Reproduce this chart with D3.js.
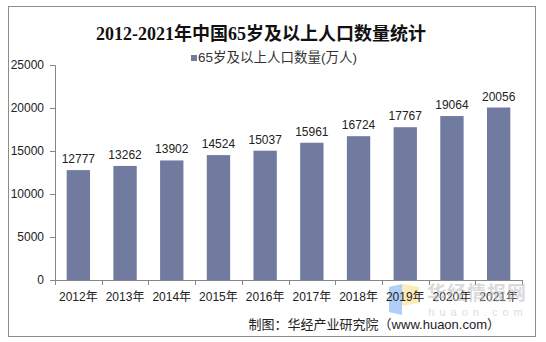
<!DOCTYPE html>
<html><head><meta charset="utf-8">
<script src="https://cdn.jsdelivr.net/npm/d3@7"></script>
<style>body{margin:0;background:#fff}svg{display:block}</style>
</head><body>
<script>
const categories = ["2012年","2013年","2014年","2015年","2016年","2017年","2018年","2019年","2020年","2021年"];
const values = [12777,13262,13902,14524,15037,15961,16724,17767,19064,20056];
const yTicks = [0,5000,10000,15000,20000,25000];
const title = "2012-2021年中国65岁及以上人口数量统计";
const legendLabel = "65岁及以上人口数量(万人)";
const source = "制图：华经产业研究院（www.huaon.com）";

const W=546,H=342;
const svg=d3.select("body").append("svg").attr("width",W).attr("height",H);
const font="'Liberation Sans','Noto Sans CJK SC',sans-serif";
svg.append("rect").attr("x",8.5).attr("y",6.5).attr("width",527).attr("height",330).attr("fill","#fff").attr("stroke","#8c8c8c");

svg.append("text").attr("x",261).attr("y",40).attr("text-anchor","middle")
  .attr("font-family","'Liberation Serif','Noto Sans CJK SC',serif").attr("font-weight","bold")
  .attr("font-size",18).attr("fill","#111").text(title);

svg.append("rect").attr("x",191).attr("y",55).attr("width",6).attr("height",6).attr("fill","#717ba0");
svg.append("text").attr("x",198).attr("y",62).attr("font-family",font).attr("font-size",13.5).attr("fill","#333").text(legendLabel);

const x=d3.scaleBand().domain(categories).range([55,522]).paddingInner(0.5).paddingOuter(0.25);
const y=d3.scaleLinear().domain([0,25000]).range([280,65]);

const ya=svg.append("g").attr("transform","translate(55,0)").call(d3.axisLeft(y).tickValues(yTicks).tickSize(5).tickPadding(6).tickFormat(d3.format("d")));
ya.select(".domain").attr("stroke","#868686").attr("d","M-5,65.5H0.5V280.5");
ya.selectAll(".tick line").attr("stroke","#868686");
ya.selectAll("text").attr("font-family",font).attr("font-size",12).attr("fill","#222");

// logo blocks (behind labels)
svg.append("path").attr("d","M389,287 L402,284 L402,315 L389,312 Z").attr("fill","#9cc3f5").attr("opacity",0.8);
svg.append("path").attr("d","M402,284 L419,287 L419,303 L402,306 Z").attr("fill","#fbe9a6").attr("opacity",0.8);

svg.selectAll(".bar").data(values).join("rect")
  .attr("x",(d,i)=>x(categories[i])).attr("width",x.bandwidth())
  .attr("y",d=>y(d)).attr("height",d=>280-y(d)).attr("fill","#717ba0");

svg.selectAll(".lbl").data(values).join("text")
  .attr("x",(d,i)=>x(categories[i])+x.bandwidth()/2).attr("y",d=>y(d)-7)
  .attr("text-anchor","middle").attr("font-family",font).attr("font-size",12).attr("fill","#222").text(d=>d);

const xb=d3.scaleLinear().domain([0,10]).range([55,522]);
const xa=svg.append("g");
xa.append("line").attr("x1",55).attr("x2",522).attr("y1",280.5).attr("y2",280.5).attr("stroke","#868686");
xa.selectAll(".t").data(d3.range(11)).join("line")
  .attr("x1",d=>Math.round(xb(d))+0.5).attr("x2",d=>Math.round(xb(d))+0.5).attr("y1",280).attr("y2",285).attr("stroke","#868686");
xa.selectAll(".xl").data(categories).join("text")
  .attr("x",d=>x(d)+x.bandwidth()/2).attr("y",301).attr("text-anchor","middle")
  .attr("font-family",font).attr("font-size",12).attr("fill","#222").text(d=>d);

// watermark
svg.append("text").attr("x",477).attr("y",300).attr("text-anchor","middle").attr("font-family","'Noto Sans CJK SC',sans-serif")
  .attr("font-weight","bold").attr("font-size",19).attr("letter-spacing",1).attr("fill","#bdbdbd").attr("opacity",0.55).text("华经情报网");
svg.append("text").attr("x",478).attr("y",316).attr("text-anchor","middle").attr("font-family",font)
  .attr("font-size",11).attr("letter-spacing",5).attr("fill","#d6d6d6").attr("opacity",0.8).text("huaon.com");

svg.append("text").attr("x",500).attr("y",329).attr("text-anchor","end").attr("font-family",font)
  .attr("font-size",13).attr("fill","#222").text(source);
</script>
</body></html>
